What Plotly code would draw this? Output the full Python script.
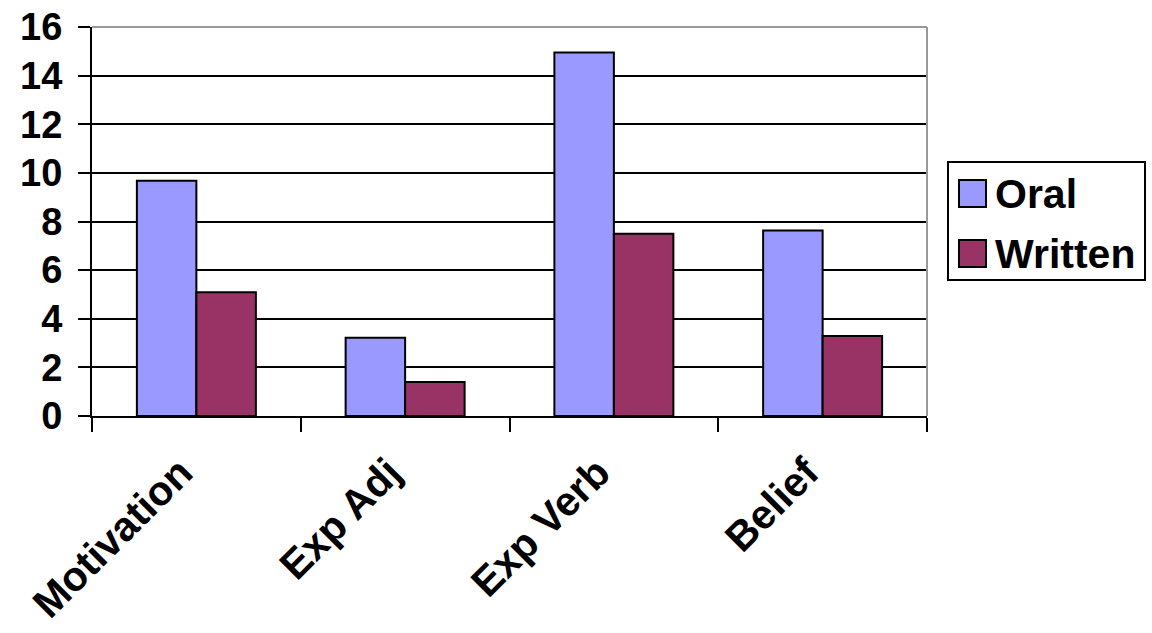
import plotly.graph_objects as go

categories = ["Motivation", "Exp Adj", "Exp Verb", "Belief"]
oral = [9.68, 3.22, 14.95, 7.63]
written = [5.09, 1.40, 7.50, 3.29]
y_ticks = [0, 2, 4, 6, 8, 10, 12, 14, 16]

series_names = ["Oral", "Written"]
series_colors = ["#9999FF", "#993366"]

font_family = "Arial, Liberation Sans, sans-serif"

W, H = 1152, 633
L, R, T, B = 92, 225, 27, 217
plot_w = W - L - R
plot_h = H - T - B


def px_x(p):
    return (p - L) / plot_w


def px_y(p):
    return (H - B - p) / plot_h


fig = go.Figure()
for name, vals, color in zip(series_names, [oral, written], series_colors):
    fig.add_trace(go.Bar(
        name=name, x=categories, y=vals,
        marker=dict(color=color, line=dict(color="black", width=2)),
        showlegend=False,
    ))

fig.update_layout(
    width=W, height=H,
    margin=dict(l=L, r=R, t=T, b=B),
    paper_bgcolor="white", plot_bgcolor="white",
    barmode="group", bargap=0.43, bargroupgap=0,
    font=dict(family=font_family, size=34, color="black"),
)

fig.update_xaxes(
    type="category", automargin=False,
    showline=True, linecolor="black", linewidth=2,
    ticks="outside", tickson="boundaries", ticklen=14, tickwidth=2, tickcolor="black",
    tickangle=-45, ticklabelstandoff=14, ticklabelshift=-16,
    tickfont=dict(family=font_family, size=41, color="black", weight="bold"),
    showgrid=False,
)
fig.update_yaxes(
    range=[0, 16], tickvals=y_ticks, automargin=False,
    showline=True, linecolor="black", linewidth=2,
    ticks="outside", ticklen=12, tickwidth=2, tickcolor="black",
    ticklabelstandoff=8,
    showgrid=True, gridcolor="black", gridwidth=2,
    tickfont=dict(family=font_family, size=38, color="black", weight="bold"),
    zeroline=False,
)

# light top and right border of the plot area
fig.add_shape(type="line", xref="paper", yref="paper", x0=1, x1=1, y0=0, y1=1,
              line=dict(color="#999999", width=2))
fig.add_shape(type="line", xref="paper", yref="paper", x0=0, x1=1, y0=1, y1=1,
              line=dict(color="#999999", width=2))

# legend box with square swatches
fig.add_shape(type="rect", xref="paper", yref="paper",
              x0=px_x(948), x1=px_x(1145), y0=px_y(280), y1=px_y(162),
              line=dict(color="black", width=2), fillcolor="white")
for i, (name, color) in enumerate(zip(series_names, series_colors)):
    top = 180 + i * 60
    fig.add_shape(type="rect", xref="paper", yref="paper",
                  x0=px_x(959), x1=px_x(986), y0=px_y(top + 27), y1=px_y(top),
                  line=dict(color="black", width=2), fillcolor=color)
    fig.add_annotation(xref="paper", yref="paper",
                       x=px_x(993), y=px_y(top + 14), xanchor="left", yanchor="middle",
                       text=name, showarrow=False,
                       font=dict(family=font_family, size=41, color="black", weight="bold"))

fig.write_html("out.html")
